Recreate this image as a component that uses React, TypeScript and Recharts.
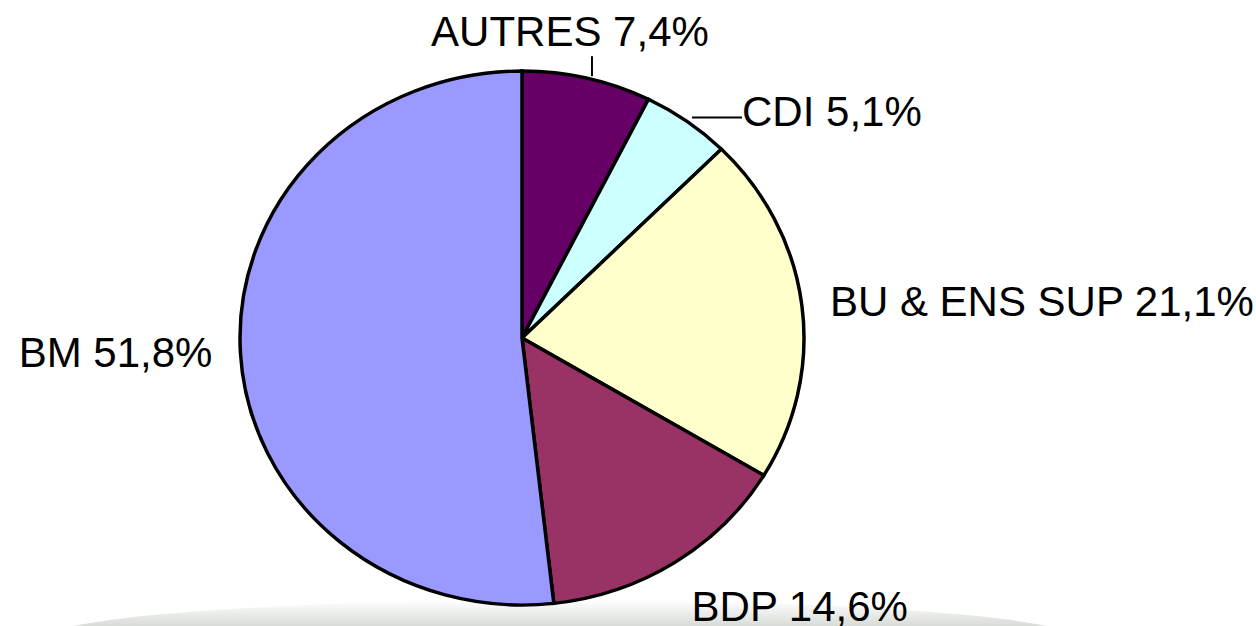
import { PieChart, Pie, Cell } from 'recharts';

const categories = ['AUTRES', 'CDI', 'BU & ENS SUP', 'BDP', 'BM'];
const shares = [7.4, 5.1, 21.1, 14.6, 51.8];
const colors = ['#660066', '#ccffff', '#ffffcc', '#993366', '#9999ff'];

const data = categories.map((name, i) => ({ name, value: shares[i] }));

const W = 1256;
const H = 626;
const CX = 522;
const CY = 338;
const R = 282;
const SY = 267 / 282; // the pie is a little flatter than it is wide

// where each label sits, relative to the slice edge at its mid angle
const place: Record<string, { dx: number; dy: number; anchor: 'start' | 'middle' | 'end'; leader?: 'up' | 'right' }> = {
  AUTRES: { dx: -17, dy: -32, anchor: 'middle', leader: 'up' },
  CDI: { dx: 55, dy: 4, anchor: 'start', leader: 'right' },
  'BU & ENS SUP': { dx: 28, dy: 11, anchor: 'start' },
  BDP: { dx: 17, dy: 58, anchor: 'start' },
  BM: { dx: -28, dy: 14, anchor: 'end' },
};

const RAD = Math.PI / 180;

function renderLabel(props: any) {
  const { cx, cy, midAngle, outerRadius, name, value } = props;
  const ex = cx + outerRadius * Math.cos(midAngle * RAD);
  const ey = cy - outerRadius * SY * Math.sin(midAngle * RAD);
  const p = place[name];
  const text = `${name} ${Number(value).toFixed(1).replace('.', ',')}%`;
  return (
    <g>
      {p.leader === 'up' && <line x1={ex + 5} y1={ey - 2} x2={ex + 5} y2={ey - 22} stroke="#000" strokeWidth={2} />}
      {p.leader === 'right' && <line x1={ex + 5} y1={ey - 4} x2={ex + 55} y2={ey - 4} stroke="#000" strokeWidth={2} />}
      <text
        x={ex + p.dx}
        y={ey + p.dy}
        textAnchor={p.anchor}
        fill="#000"
        fontSize={42}
        fontFamily="'Liberation Sans', Arial, sans-serif"
      >
        {text}
      </text>
    </g>
  );
}

export default function App() {
  return (
    <div style={{ position: 'absolute', left: 0, top: 0, width: W, height: H, background: '#fff', overflow: 'hidden' }}>
      <style>{`.flat-pie .recharts-sector { transform-origin: ${CX}px ${CY}px; transform: scaleY(${SY}); }`}</style>
      <svg width={W} height={H} style={{ position: 'absolute', left: 0, top: 0 }}>
        <defs>
          <linearGradient id="floor" x1="0" y1="0" x2="0" y2="1">
            <stop offset="0" stopColor="#ffffff" />
            <stop offset="0.4" stopColor="#d0d3d0" />
            <stop offset="1" stopColor="#9a9f9a" />
          </linearGradient>
        </defs>
        <ellipse cx={560} cy={640} rx={520} ry={40} fill="url(#floor)" />
      </svg>
      <div className="flat-pie" style={{ position: 'absolute', left: 0, top: 0 }}>
        <PieChart width={W} height={H} margin={{ top: 0, right: 0, bottom: 0, left: 0 }}>
          <Pie
            data={data}
            dataKey="value"
            nameKey="name"
            cx={CX}
            cy={CY}
            outerRadius={R}
            startAngle={90}
            endAngle={-270}
            stroke="#000"
            strokeWidth={3.5}
            label={renderLabel}
            labelLine={false}
            isAnimationActive={false}
          >
            {data.map((d, i) => (
              <Cell key={d.name} fill={colors[i]} />
            ))}
          </Pie>
        </PieChart>
      </div>
    </div>
  );
}
